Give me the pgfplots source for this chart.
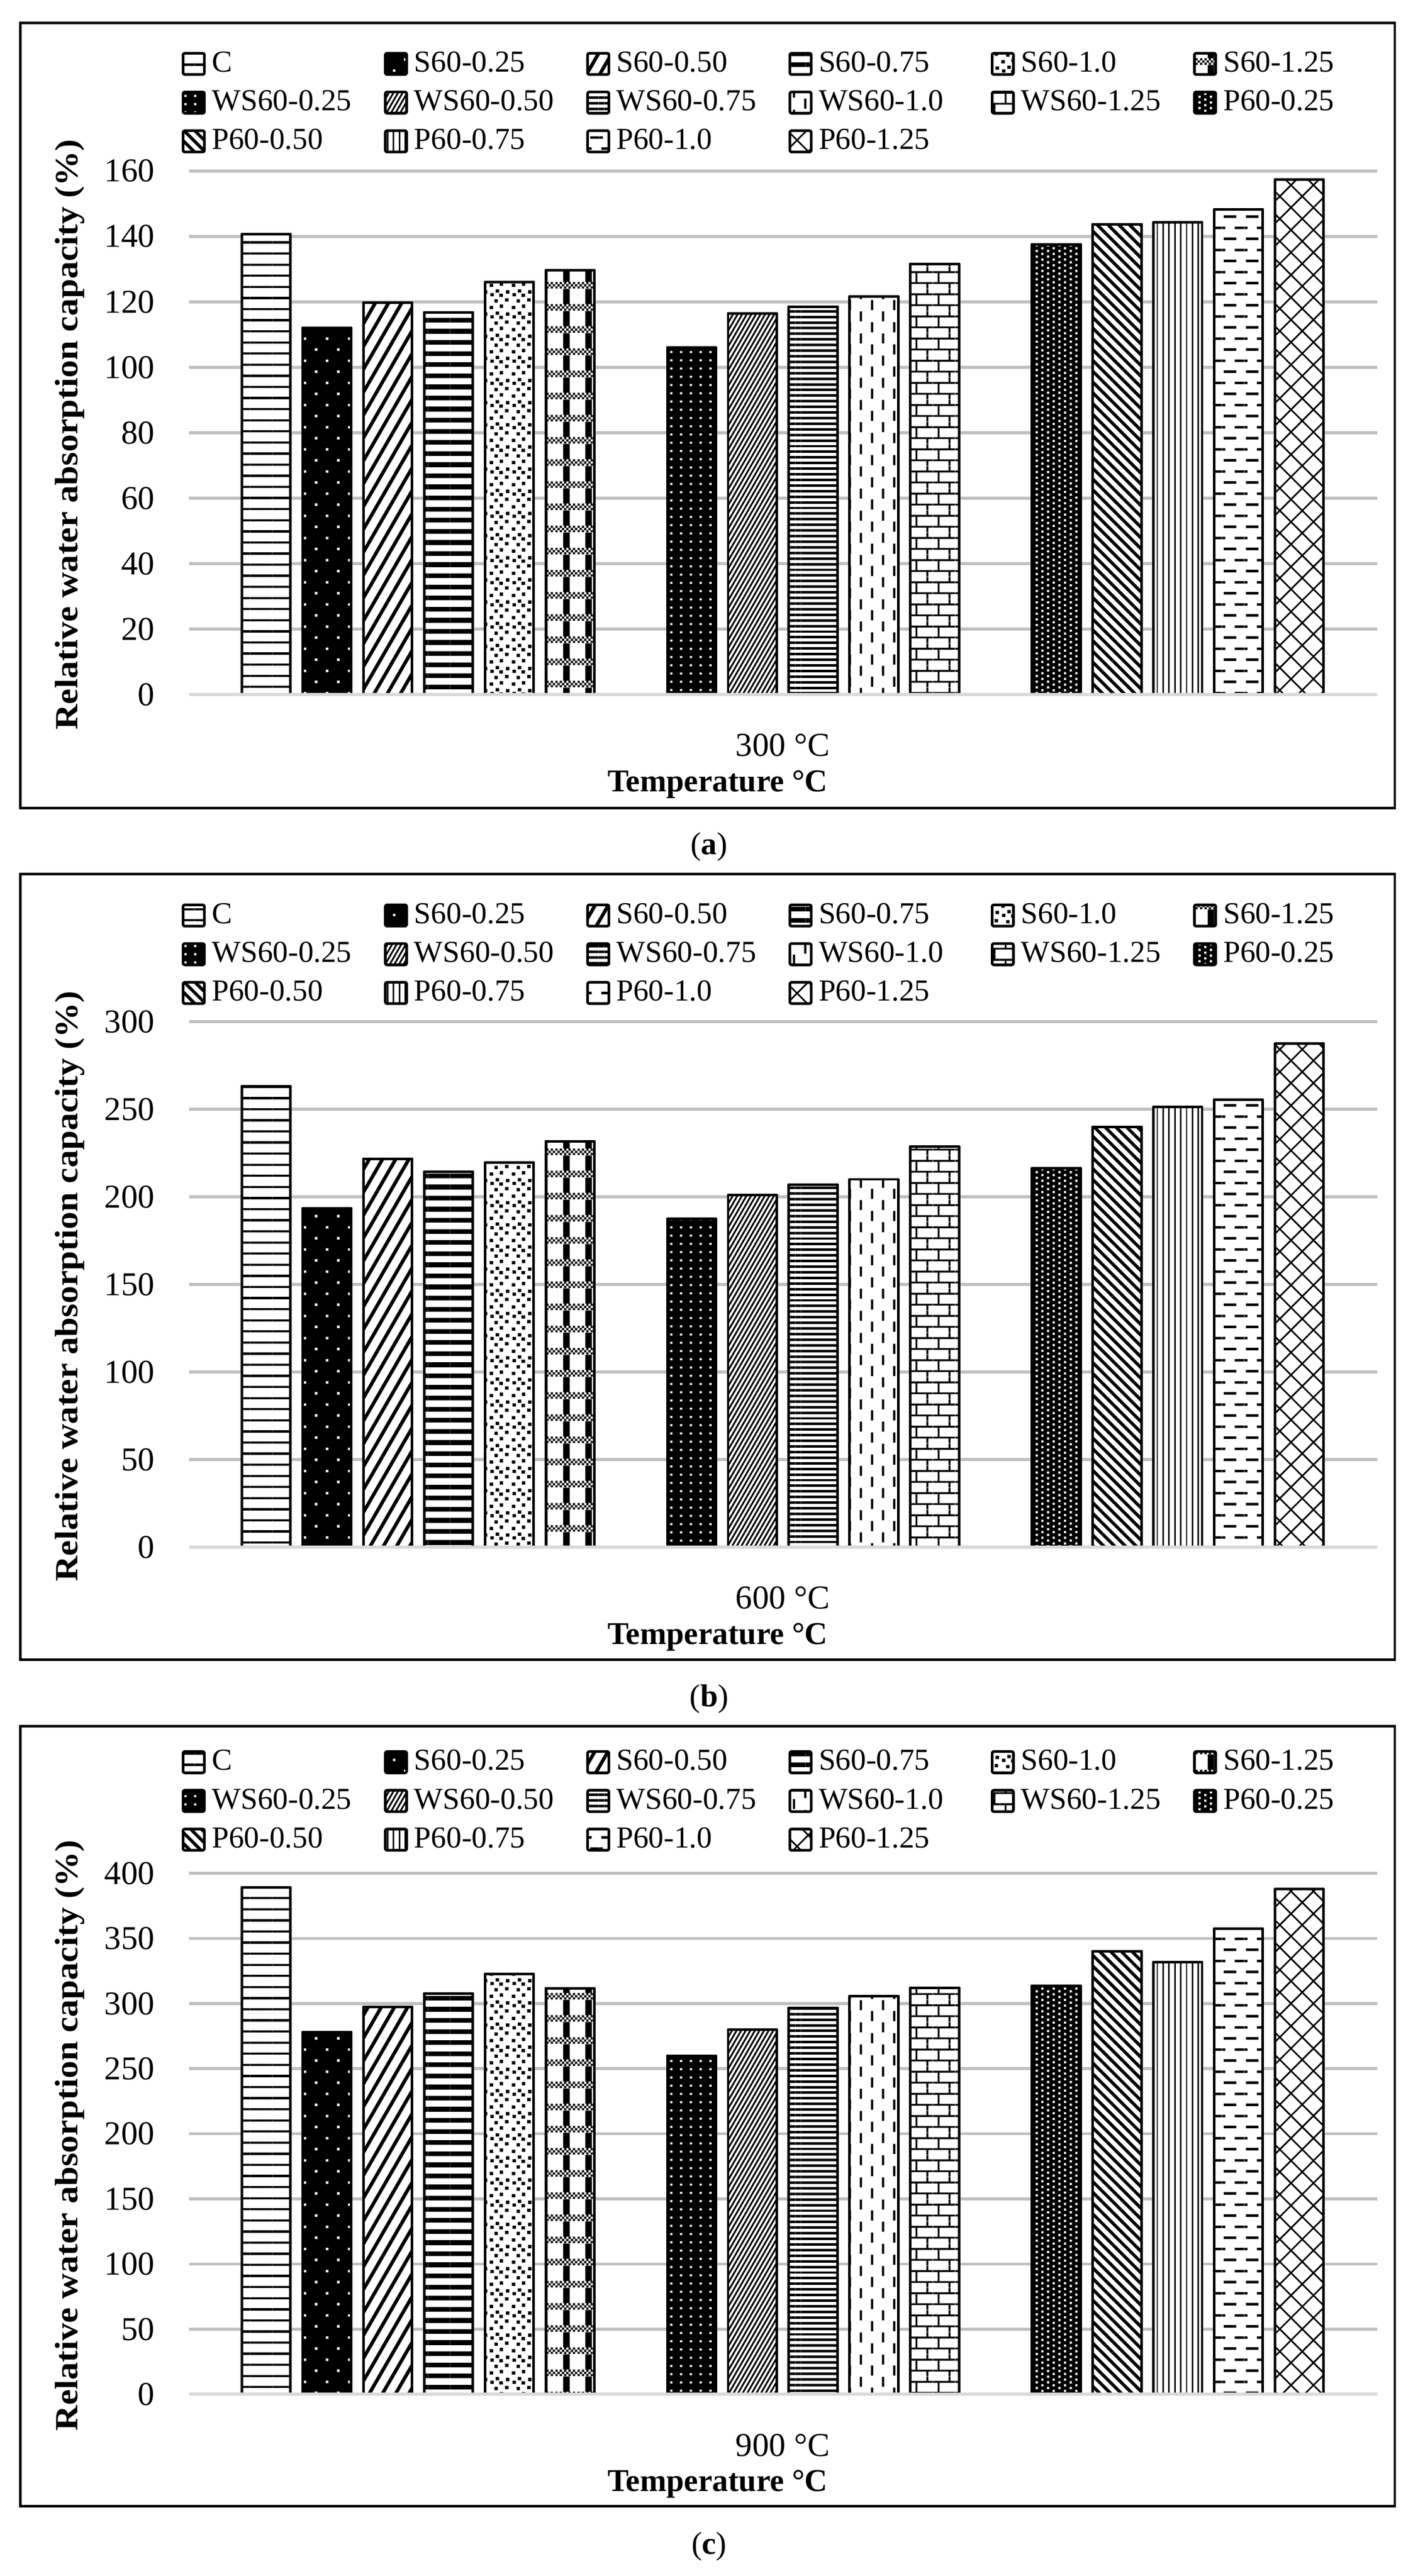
\documentclass[border=0pt]{standalone}
\usepackage{fontspec}
\setmainfont{Liberation Serif}
\usepackage{graphicx}
\usepackage{pgfplots}
\pgfplotsset{compat=1.18}
\usetikzlibrary{patterns,patterns.meta}

\definecolor{gridgray}{HTML}{BFBFBF}
\definecolor{zerogray}{HTML}{D9D9D9}

% pattern tiles (Excel-like fills)
\pgfdeclarepatternformonly{sparsedots}{\pgfqpoint{0pt}{0pt}}{\pgfqpoint{7pt}{7pt}}{\pgfqpoint{7pt}{7pt}}{%
  \pgfpathrectangle{\pgfqpoint{1.35pt}{1.35pt}}{\pgfqpoint{0.8pt}{0.8pt}}%
  \pgfpathrectangle{\pgfqpoint{4.85pt}{4.85pt}}{\pgfqpoint{0.8pt}{0.8pt}}%
  \pgfusepath{fill}}
\pgfdeclarepatternformonly{griddots}{\pgfqpoint{0pt}{0pt}}{\pgfqpoint{3pt}{2.6pt}}{\pgfqpoint{3pt}{2.6pt}}{%
  \pgfpathrectangle{\pgfqpoint{1.1pt}{0.95pt}}{\pgfqpoint{0.75pt}{0.7pt}}%
  \pgfusepath{fill}}
\pgfdeclarepatternformonly{densedots}{\pgfqpoint{0pt}{0pt}}{\pgfqpoint{3.54pt}{1.78pt}}{\pgfqpoint{3.54pt}{1.78pt}}{%
  \pgfpathrectangle{\pgfqpoint{0.5pt}{0.1pt}}{\pgfqpoint{0.7pt}{0.7pt}}%
  \pgfpathrectangle{\pgfqpoint{2.27pt}{0.99pt}}{\pgfqpoint{0.7pt}{0.7pt}}%
  \pgfusepath{fill}}
\def\csq#1#2{\pgfpathrectangle{\pgfqpoint{#1pt}{#2pt}}{\pgfqpoint{1.1pt}{1.05pt}}}
\pgfdeclarepatternformonly{confetti}{\pgfqpoint{0pt}{0pt}}{\pgfqpoint{7pt}{7pt}}{\pgfqpoint{7pt}{7pt}}{%
  \csq{0.4}{0.5}\csq{3.6}{0.9}\csq{1.9}{2.6}\csq{5.3}{2.9}%
  \csq{0.6}{4.6}\csq{3.5}{4.4}\csq{2.3}{5.8}\csq{5.6}{5.5}%
  \pgfusepath{fill}}
\def\ksq#1#2{\pgfpathrectangle{\pgfqpoint{#1pt}{#2pt}}{\pgfqpoint{0.7pt}{0.7pt}}}
\pgfdeclarepatternformonly{plaid}{\pgfqpoint{0pt}{0pt}}{\pgfqpoint{7pt}{7pt}}{\pgfqpoint{7pt}{7pt}}{%
  \ksq{0}{0}\ksq{1.4}{0}\ksq{2.8}{0}\ksq{4.2}{0}\ksq{5.6}{0}%
  \ksq{0.7}{0.7}\ksq{2.1}{0.7}\ksq{3.5}{0.7}\ksq{4.9}{0.7}\ksq{6.3}{0.7}%
  \ksq{0}{1.4}\ksq{1.4}{1.4}\ksq{2.8}{1.4}\ksq{4.2}{1.4}\ksq{5.6}{1.4}%
  \pgfpathrectangle{\pgfqpoint{2.45pt}{2.1pt}}{\pgfqpoint{2.1pt}{4.9pt}}%
  \pgfusepath{fill}}
\pgfdeclarepatternformonly{vdashes}{\pgfqpoint{0pt}{0pt}}{\pgfqpoint{7pt}{7pt}}{\pgfqpoint{7pt}{7pt}}{%
  \pgfsetlinewidth{0.7pt}%
  \pgfpathmoveto{\pgfqpoint{1.75pt}{0.2pt}}\pgfpathlineto{\pgfqpoint{1.75pt}{3.4pt}}%
  \pgfpathmoveto{\pgfqpoint{5.25pt}{3.7pt}}\pgfpathlineto{\pgfqpoint{5.25pt}{6.9pt}}%
  \pgfusepath{stroke}}
\pgfdeclarepatternformonly{hdashes}{\pgfqpoint{0pt}{0pt}}{\pgfqpoint{7pt}{7pt}}{\pgfqpoint{7pt}{7pt}}{%
  \pgfsetlinewidth{0.8pt}%
  \pgfpathmoveto{\pgfqpoint{0.5pt}{1.75pt}}\pgfpathlineto{\pgfqpoint{4.5pt}{1.75pt}}%
  \pgfpathmoveto{\pgfqpoint{4pt}{5.25pt}}\pgfpathlineto{\pgfqpoint{7pt}{5.25pt}}%
  \pgfpathmoveto{\pgfqpoint{0pt}{5.25pt}}\pgfpathlineto{\pgfqpoint{1pt}{5.25pt}}%
  \pgfusepath{stroke}}
\pgfdeclarepatternformonly{brickwall}{\pgfqpoint{0pt}{0pt}}{\pgfqpoint{7pt}{7pt}}{\pgfqpoint{7pt}{7pt}}{%
  \pgfsetlinewidth{0.6pt}%
  \pgfpathmoveto{\pgfqpoint{0pt}{1.75pt}}\pgfpathlineto{\pgfqpoint{7pt}{1.75pt}}%
  \pgfpathmoveto{\pgfqpoint{0pt}{5.25pt}}\pgfpathlineto{\pgfqpoint{7pt}{5.25pt}}%
  \pgfpathmoveto{\pgfqpoint{1.75pt}{1.75pt}}\pgfpathlineto{\pgfqpoint{1.75pt}{5.25pt}}%
  \pgfpathmoveto{\pgfqpoint{5.25pt}{5.25pt}}\pgfpathlineto{\pgfqpoint{5.25pt}{7pt}}%
  \pgfpathmoveto{\pgfqpoint{5.25pt}{0pt}}\pgfpathlineto{\pgfqpoint{5.25pt}{1.75pt}}%
  \pgfusepath{stroke}}

\newcommand\lgd[1]{\makebox[52.2pt][l]{#1}}

\pgfplotsset{
  bar/.style={ybar, bar width=0.8, bar shift=0pt, draw=black, line width=0.8pt, line join=round,
    legend image code/.code={\draw[##1, rounded corners=0.5pt] (0pt,-3.35pt) rectangle (6.7pt,3.35pt);}},
  onwhite/.style={bar, preaction={fill=white}, pattern={#1}},
  onblack/.style={bar, preaction={fill=black}, pattern={#1}, pattern color=white},
  bC/.style={onwhite={Lines[angle=0,distance=3.5pt,line width=0.7pt]}},
  bS1/.style={onblack=sparsedots},
  bS2/.style={onwhite={Lines[angle=60,distance=3.6pt,line width=1.1pt]}},
  bS3/.style={onwhite={Lines[angle=0,distance=3.5pt,line width=1.5pt]}},
  bS4/.style={onwhite=confetti},
  bS5/.style={onwhite=plaid},
  bW1/.style={onblack=griddots},
  bW2/.style={onwhite={Lines[angle=60,distance=1.25pt,line width=0.55pt]}},
  bW3/.style={onwhite={Lines[angle=0,distance=1.77pt,line width=0.8pt]}},
  bW4/.style={onwhite=vdashes},
  bW5/.style={onwhite=brickwall},
  bP1/.style={onblack=densedots},
  bP2/.style={onwhite={Lines[angle=-45,distance=2.4pt,line width=1pt]}},
  bP3/.style={onwhite={Lines[angle=90,distance=1.85pt,line width=0.45pt]}},
  bP4/.style={onwhite=hdashes},
  bP5/.style={onwhite={Hatch[angle=45,distance=5pt,line width=0.5pt]}},
  panel/.style={
    scale only axis, width=374.2pt,
    xmin=-1.27, xmax=18.28, ymin=0,
    axis line style={draw=none}, major tick length=0pt,
    ymajorgrids, grid style={draw=gridgray, line width=0.9pt},
    xtick={8.5},
    tick label style={font=\fontsize{10.5}{12}\selectfont},
    yticklabel style={xshift=-7.3pt},
    xticklabel style={anchor=center, yshift=-16pt},
    /pgf/number format/assume math mode=true,
    xlabel={\bfseries Temperature °C},
    every axis x label/.style={at={(axis description cs:0.445,0)}, anchor=center, yshift=-28.3pt, font=\fontsize{10}{12}\selectfont},
    every axis y label/.style={at={(axis description cs:-0.1003,0.4966)}, rotate=90, anchor=center, inner sep=0pt, font=\fontsize{10.2}{12}\selectfont},
    ylabel={\resizebox{186pt}{\height}{\bfseries Relative water absorption capacity (\%)}},
    legend columns=6,
    legend style={draw=none, fill=none, anchor=north west, inner sep=0pt, outer sep=0pt,
      font=\fontsize{9.6}{11}\selectfont,
      nodes={inner sep=2pt, text height=6.6pt, text depth=1.6pt}},
    legend entries={\lgd{C},\lgd{S60-0.25},\lgd{S60-0.50},\lgd{S60-0.75},\lgd{S60-1.0},\lgd{S60-1.25},
      \lgd{WS60-0.25},\lgd{WS60-0.50},\lgd{WS60-0.75},\lgd{WS60-1.0},\lgd{WS60-1.25},\lgd{P60-0.25},
      \lgd{P60-0.50},\lgd{P60-0.75},\lgd{P60-1.0},\lgd{P60-1.25}},
    after end axis/.code={\draw[zerogray, line width=0.9pt] (rel axis cs:0,0) -- (rel axis cs:1,0);},
  },
}

\begin{document}
\begin{tikzpicture}
\useasboundingbox (0pt,0pt) rectangle (446.50pt,811.37pt);

% ---- (a) 300 C ----
\draw[line width=0.8pt] (6.38pt,804.15pt) rectangle (439.27pt,556.88pt);
\begin{axis}[panel, at={(59.51pt,592.59pt)}, anchor=south west, height=164.94pt,
  ymax=160, ytick={0,20,...,160}, xticklabels={300 °C},
  legend style={at={(-0.006,1.2414)}}]
\addplot[bC]  coordinates {(0,140.7)};
\addplot[bS1] coordinates {(1,112.1)};
\addplot[bS2] coordinates {(2,119.7)};
\addplot[bS3] coordinates {(3,116.8)};
\addplot[bS4] coordinates {(4,126.0)};
\addplot[bS5] coordinates {(5,129.6)};
\addplot[bW1] coordinates {(7,106.1)};
\addplot[bW2] coordinates {(8,116.5)};
\addplot[bW3] coordinates {(9,118.5)};
\addplot[bW4] coordinates {(10,121.6)};
\addplot[bW5] coordinates {(11,131.6)};
\addplot[bP1] coordinates {(13,137.6)};
\addplot[bP2] coordinates {(14,143.7)};
\addplot[bP3] coordinates {(15,144.3)};
\addplot[bP4] coordinates {(16,148.2)};
\addplot[bP5] coordinates {(17,157.3)};
\end{axis}
\node[font=\fontsize{10}{12}\selectfont] at (223.32pt,544.69pt) {(\textbf{a})};

% ---- (b) 600 C ----
\draw[line width=0.8pt] (6.38pt,536.05pt) rectangle (439.27pt,288.64pt);
\begin{axis}[panel, at={(59.51pt,324.07pt)}, anchor=south west, height=165.5pt,
  ymax=300, ytick={0,50,...,300}, xticklabels={600 °C},
  legend style={at={(-0.006,1.2389)}}]
\addplot[bC]  coordinates {(0,263.0)};
\addplot[bS1] coordinates {(1,193.3)};
\addplot[bS2] coordinates {(2,221.7)};
\addplot[bS3] coordinates {(3,214.3)};
\addplot[bS4] coordinates {(4,219.6)};
\addplot[bS5] coordinates {(5,231.7)};
\addplot[bW1] coordinates {(7,187.4)};
\addplot[bW2] coordinates {(8,201.0)};
\addplot[bW3] coordinates {(9,206.9)};
\addplot[bW4] coordinates {(10,210.0)};
\addplot[bW5] coordinates {(11,228.6)};
\addplot[bP1] coordinates {(13,216.2)};
\addplot[bP2] coordinates {(14,239.9)};
\addplot[bP3] coordinates {(15,251.3)};
\addplot[bP4] coordinates {(16,255.4)};
\addplot[bP5] coordinates {(17,287.4)};
\end{axis}
\node[font=\fontsize{10}{12}\selectfont] at (223.32pt,276.17pt) {(\textbf{b})};

% ---- (c) 900 C ----
\draw[line width=0.8pt] (6.38pt,267.67pt) rectangle (439.27pt,21.96pt);
\begin{axis}[panel, at={(59.51pt,57.25pt)}, anchor=south west, height=164.09pt,
  ymax=400, ytick={0,50,...,400}, xticklabels={900 °C},
  legend style={at={(-0.006,1.2504)}}]
\addplot[bC]  coordinates {(0,389.2)};
\addplot[bS1] coordinates {(1,278.0)};
\addplot[bS2] coordinates {(2,297.5)};
\addplot[bS3] coordinates {(3,307.7)};
\addplot[bS4] coordinates {(4,322.6)};
\addplot[bS5] coordinates {(5,311.5)};
\addplot[bW1] coordinates {(7,259.8)};
\addplot[bW2] coordinates {(8,279.9)};
\addplot[bW3] coordinates {(9,296.6)};
\addplot[bW4] coordinates {(10,305.6)};
\addplot[bW5] coordinates {(11,312.1)};
\addplot[bP1] coordinates {(13,313.6)};
\addplot[bP2] coordinates {(14,340.2)};
\addplot[bP3] coordinates {(15,331.9)};
\addplot[bP4] coordinates {(16,357.6)};
\addplot[bP5] coordinates {(17,387.9)};
\end{axis}
\node[font=\fontsize{10}{12}\selectfont] at (223.32pt,9.35pt) {(\textbf{c})};
\end{tikzpicture}
\end{document}
